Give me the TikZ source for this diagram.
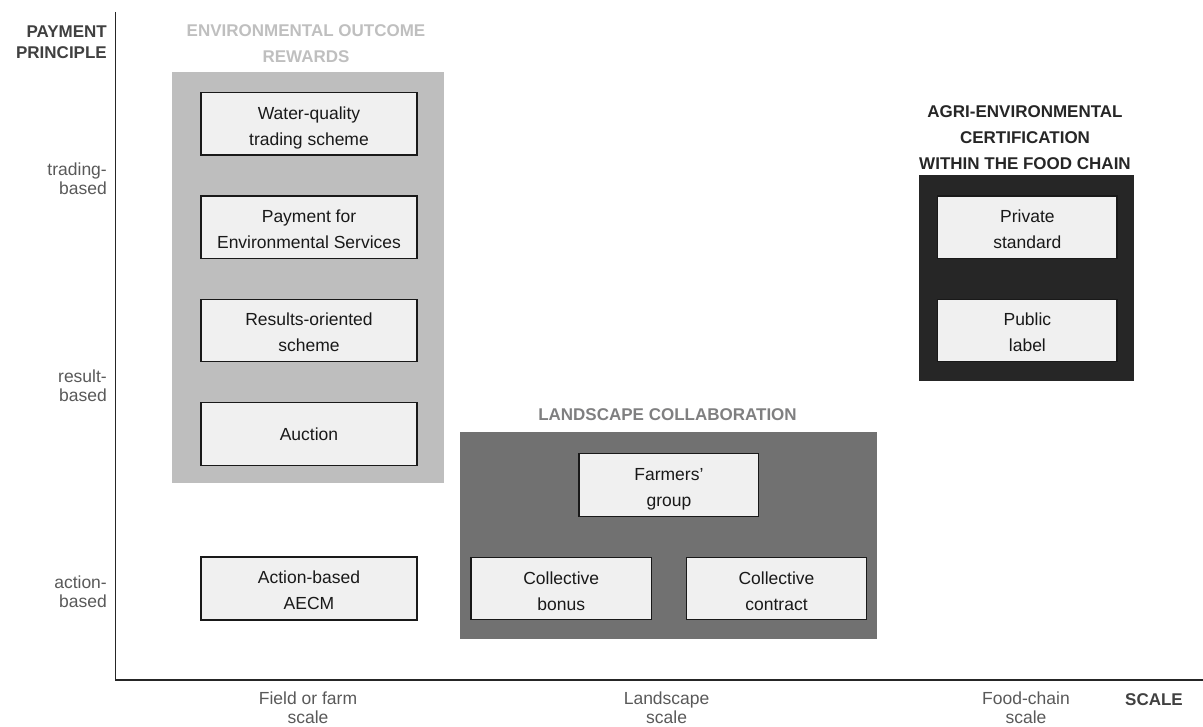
\documentclass[tikz,border=0pt]{standalone}
\usepackage{fontspec}
\setmainfont{Liberation Sans}
\definecolor{boxfill}{HTML}{F0F0F0}
\definecolor{panelA}{HTML}{BEBEBE}
\definecolor{panelB}{HTML}{717171}
\definecolor{panelC}{HTML}{262626}
\definecolor{titleA}{HTML}{BFBFBF}
\definecolor{titleB}{HTML}{7F7F80}
\definecolor{titleC}{HTML}{262626}
\definecolor{axislab}{HTML}{595959}
\definecolor{axishead}{HTML}{404040}
\tikzset{
  panel/.style={inner sep=0pt, draw=none},
  itembox/.style={draw=black!90, fill=boxfill, line width=1.3pt, inner sep=0pt,
    align=center, font=\fontsize{17.5}{26}\selectfont, text=black!90},
  twoline/.style={text height=43pt, text depth=0pt},
  grouptitle/.style={font=\fontsize{17}{26}\selectfont\bfseries, align=center, inner sep=0pt},
  axislabel/.style={font=\fontsize{17.5}{19}\selectfont, text=axislab, inner sep=0pt},
  axisheading/.style={font=\fontsize{17}{21}\selectfont\bfseries, text=axishead, inner sep=0pt},
  axisline/.style={draw=black!85, line width=1.5pt}
}
\begin{document}
\begin{tikzpicture}[x=1pt,y=-1pt]
\useasboundingbox (0,0) rectangle (1203,727);
% panels
\node[panel, fill=panelA, minimum width=272pt, minimum height=411pt] (pA) at (308,277.5) {};
\node[panel, fill=panelB, minimum width=416.7pt, minimum height=207pt] (pB) at (668.3,535.8) {};
\node[panel, fill=panelC, minimum width=215pt, minimum height=206pt] (pC) at (1026.8,278) {};
% panel titles
\node[grouptitle, text=titleA] (tA) at (306,43.5) {ENVIRONMENTAL OUTCOME\\REWARDS};
\node[grouptitle, text=titleB] (tB) at (667.5,415) {LANDSCAPE COLLABORATION};
\node[grouptitle, text=titleC] (tC) at (1025,137.2) {AGRI-ENVIRONMENTAL\\CERTIFICATION\\WITHIN THE FOOD CHAIN};
% boxes in panel A
\node[itembox, twoline, minimum width=216pt, minimum height=62.5pt] (water) at (309,123.7) {Water-quality\\trading scheme};
\node[itembox, twoline, minimum width=216pt, minimum height=62.5pt] (pes) at (309,227.2) {Payment for\\Environmental Services};
\node[itembox, twoline, minimum width=216pt, minimum height=62.5pt] (results) at (309,330.5) {Results-oriented\\scheme};
\node[itembox, minimum width=216pt, minimum height=62.5pt] (auction) at (309,434) {Auction};
\node[itembox, twoline, minimum width=216pt, minimum height=63pt] (aecm) at (309,588.4) {Action-based\\AECM};
% boxes in panel B
\node[itembox, twoline, minimum width=179.7pt, minimum height=63pt] (farmers) at (668.9,484.8) {Farmers'\\group};
\node[itembox, twoline, minimum width=180.3pt, minimum height=62.4pt] (bonus) at (561.2,588.5) {Collective\\bonus};
\node[itembox, twoline, minimum width=180.4pt, minimum height=62.4pt] (contract) at (776.5,588.5) {Collective\\contract};
% boxes in panel C
\node[itembox, twoline, minimum width=179.3pt, minimum height=62.3pt] (private) at (1027.4,227.2) {Private\\standard};
\node[itembox, twoline, minimum width=179.3pt, minimum height=62.3pt] (public) at (1027.4,330.5) {Public\\label};
% axes
\coordinate (ytop) at (115.7,12);
\coordinate (xend) at (1203,680);
\draw[axisline] (ytop) |- (xend);
% axis labels
\node[axisheading, anchor=east, align=right] (ppl) at (107,42.7) {PAYMENT\\PRINCIPLE};
\node[axislabel, anchor=east, align=right] (trad) at (107,178.7) {trading-\\based};
\node[axislabel, anchor=east, align=right] (res) at (107,385.7) {result-\\based};
\node[axislabel, anchor=east, align=right] (act) at (107,591.7) {action-\\based};
\node[axislabel, align=center] (field) at (308,708) {Field or farm\\scale};
\node[axislabel, align=center] (land) at (666.6,708) {Landscape\\scale};
\node[axislabel, align=center] (food) at (1026,708) {Food-chain\\scale};
\node[axisheading] (scl) at (1154,699.5) {SCALE};
\end{tikzpicture}
\end{document}
